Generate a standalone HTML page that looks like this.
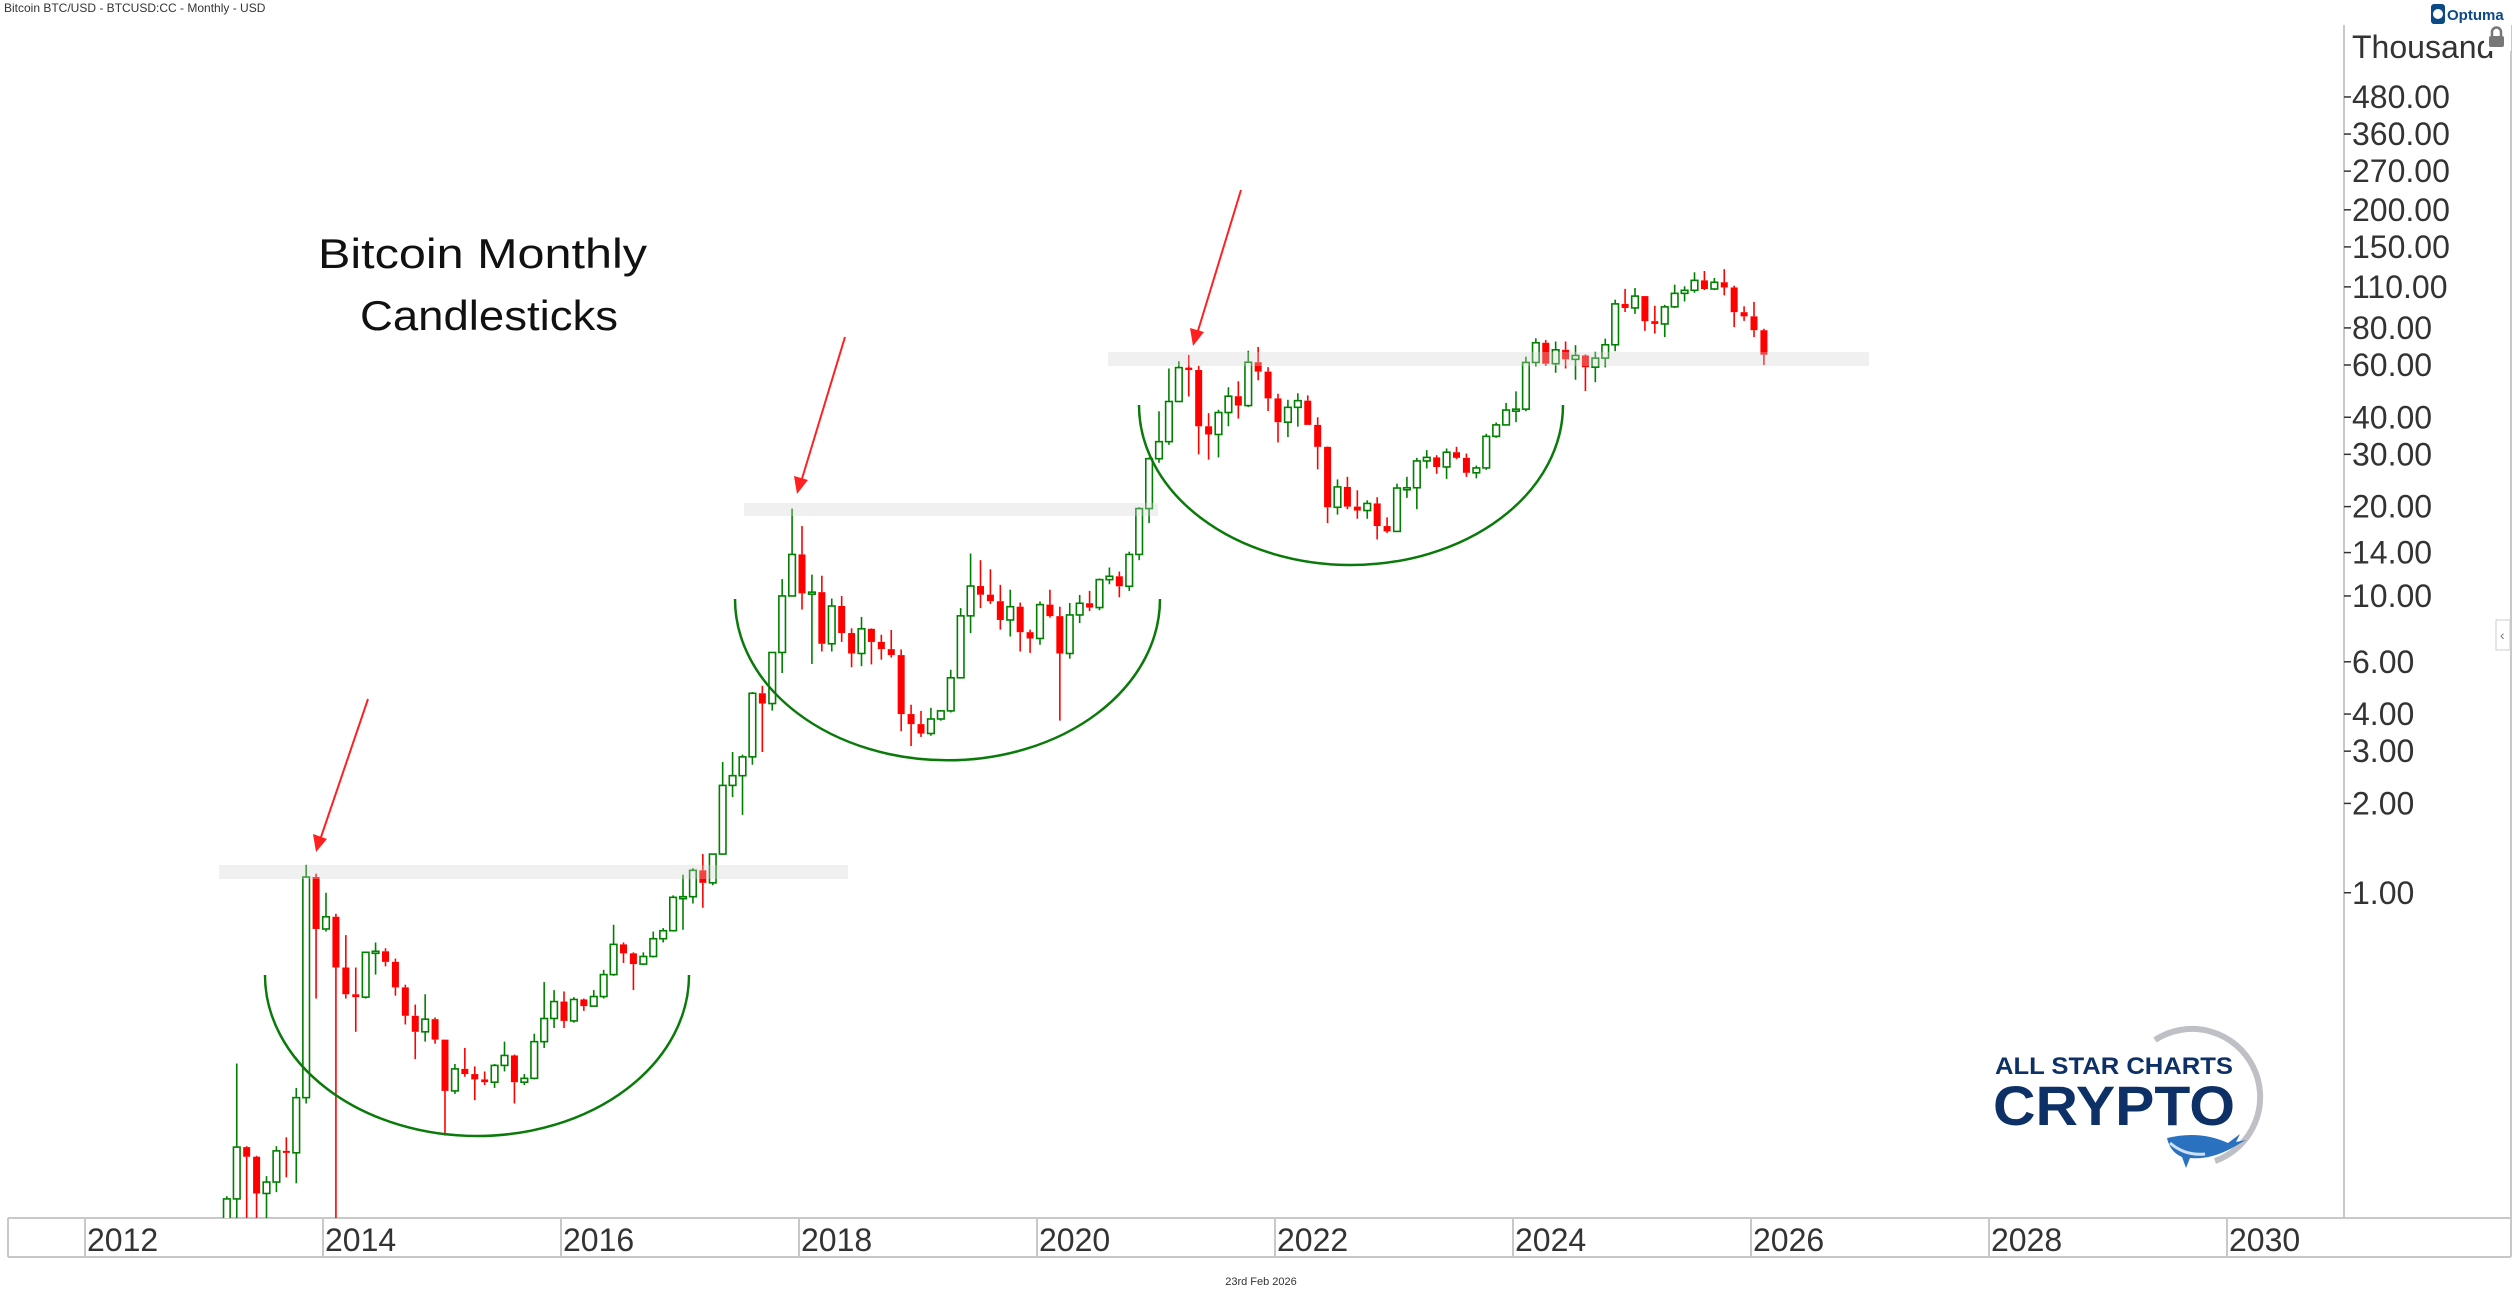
<!DOCTYPE html>
<html><head><meta charset="utf-8"><style>
html,body{margin:0;padding:0;background:#fff;}
svg{display:block;font-family:"Liberation Sans",sans-serif;}
</style></head><body>
<svg id="c" width="2518" height="1292" viewBox="0 0 2518 1292" xmlns="http://www.w3.org/2000/svg">
<defs><clipPath id="pl"><rect x="8" y="20" width="2336" height="1198"/></clipPath></defs>
<rect width="2518" height="1292" fill="#fff"/>
<text x="4" y="12" font-size="12" fill="#333">Bitcoin BTC/USD - BTCUSD:CC - Monthly - USD</text>
<line x1="2344" y1="25" x2="2344" y2="1218" stroke="#c8c8c8" stroke-width="2"/>
<line x1="2511" y1="25" x2="2511" y2="1257" stroke="#c8c8c8" stroke-width="2"/>
<line x1="8" y1="1218" x2="2511" y2="1218" stroke="#c8c8c8" stroke-width="2"/>
<line x1="8" y1="1257" x2="2511" y2="1257" stroke="#c8c8c8" stroke-width="2"/>
<line x1="8" y1="1218" x2="8" y2="1257" stroke="#c8c8c8" stroke-width="2"/>
<g id="xax" font-size="32" fill="#333"></g>
<g id="yax" font-size="32" fill="#333"></g>
<text x="2352" y="58" font-size="32" fill="#333">Thousand</text>
<rect x="2484" y="25" width="27" height="26" fill="#fff"/>
<rect x="2489" y="36" width="15" height="11" rx="2" fill="#777"/>
<path d="M2492 36v-4a4.5 4.5 0 0 1 9 0v4" fill="none" stroke="#777" stroke-width="2.5"/>
<rect x="2431" y="4" width="14" height="20" rx="3" fill="#0c4a85"/>
<circle cx="2438" cy="14" r="5" fill="#fff"/>
<text x="2447" y="20" font-size="15" font-weight="bold" fill="#0c4a85">Optuma</text>
<text x="2500" y="640" font-size="14" fill="#777">‹</text>
<rect x="2496" y="620" width="14" height="30" fill="none" stroke="#ccc"/>
<g clip-path="url(#pl)">
<g id="cand"></g>
<g opacity="0.33">
<rect x="219" y="865" width="629" height="14" fill="#d2d2d2"/>
<rect x="744" y="503" width="414" height="13" fill="#d2d2d2"/>
<rect x="1108" y="352" width="761" height="14" fill="#d2d2d2"/>
</g>
<path d="M265 975 A212 161 0 0 0 689 975" fill="none" stroke="#0a7a0a" stroke-width="2.5"/>
<path d="M735 599 A212 161 0 0 0 1160 599" fill="none" stroke="#0a7a0a" stroke-width="2.5"/>
<path d="M1139 405 A212 160 0 0 0 1563 405" fill="none" stroke="#0a7a0a" stroke-width="2.5"/>
</g>
<g stroke="#ff2020" stroke-width="2" fill="#ff2020">
<line x1="368" y1="699" x2="320" y2="840"/><polygon points="316,852 313,834 327,839" stroke="none"/>
<line x1="845" y1="337" x2="801" y2="482"/><polygon points="797,494 794,476 808,480" stroke="none"/>
<line x1="1241" y1="190" x2="1197" y2="334"/><polygon points="1193,346 1190,328 1204,332" stroke="none"/>
</g>
<text x="318" y="268" font-size="42" fill="#111" textLength="329" lengthAdjust="spacingAndGlyphs">Bitcoin Monthly</text>
<text x="360" y="330" font-size="42" fill="#111" textLength="258" lengthAdjust="spacingAndGlyphs">Candlesticks</text>
<path d="M2155 1040 A68 68 0 1 1 2215 1161" fill="none" stroke="#bfc0c6" stroke-width="6"/>
<text x="1995" y="1074" font-size="24" font-weight="bold" fill="#0d3166" textLength="238" lengthAdjust="spacingAndGlyphs">ALL STAR CHARTS</text>
<text x="1993" y="1125" font-size="56" font-weight="bold" fill="#0d3166" textLength="242" lengthAdjust="spacingAndGlyphs">CRYPTO</text>
<path d="M2167 1138 Q2200 1130 2228 1143 L2240 1134 L2236 1142 L2246 1140 L2232 1148 Q2210 1160 2190 1158 L2186 1168 L2182 1157 Q2170 1152 2167 1138Z" fill="#2a72c0"/>
<path d="M2170 1143 Q2185 1156 2205 1154" fill="none" stroke="#cfe0f3" stroke-width="3"/>
<text x="1261" y="1285" font-size="11" fill="#333" text-anchor="middle">23rd Feb 2026</text>
</svg>
<script>
var NS="http://www.w3.org/2000/svg";
function el(t,a,p){var e=document.createElementNS(NS,t);for(var k in a)e.setAttribute(k,a[k]);p.appendChild(e);return e;}
function Y(p){return 365-296.8*Math.log10(p/60000);}
var xax=document.getElementById('xax');
for(var yr=2012;yr<=2030;yr+=2){var x=85+(yr-2012)*119;
el('line',{x1:x,y1:1218,x2:x,y2:1257,stroke:'#c8c8c8','stroke-width':2},xax);
var t=el('text',{x:x+2,y:1251},xax);t.textContent=yr;}
var yax=document.getElementById('yax');
[480,360,270,200,150,110,80,60,40,30,20,14,10,6,4,3,2,1].forEach(function(v){var y=Y(v*1000);
el('line',{x1:2344,y1:y,x2:2351,y2:y,stroke:'#333','stroke-width':1.5},yax);
var t=el('text',{x:2352,y:y+11},yax);t.textContent=v.toFixed(2);});
var D=[
[34,95,33,93],[93,266,50,139],[139,140,80,129],[129,130,64,97],[97,111,65,106],[106,140,98,135],[135,150,110,133],[133,220,105,204],[204,1242,195,1130],[1130,1160,440,755],
[755,1000,740,830],[830,850,80,560],[560,720,440,455],[455,560,340,445],[445,630,440,630],[630,680,530,635],[635,650,565,585],[585,600,450,480],[480,490,360,385],[385,420,275,340],[340,455,315,375],[375,380,310,320],
[320,320,152,215],[215,265,210,255],[255,300,240,245],[245,260,200,235],[235,250,225,230],[230,265,220,262],[262,315,250,283],[283,285,195,230],[230,245,225,237],[237,335,235,315],[315,500,300,377],[377,470,350,430],
[430,465,350,370],[370,445,365,437],[437,440,400,415],[415,470,415,447],[447,550,440,530],[530,780,525,670],[670,680,580,625],[625,630,470,575],[575,630,570,610],[610,740,605,700],[700,760,680,745],[745,980,740,965],
[965,1150,750,970],[970,1210,920,1190],[1190,1350,890,1080],[1080,1350,1060,1350],[1350,2760,1350,2300],[2300,2980,2100,2480],[2480,2920,1830,2870],[2870,4750,2700,4700],[4700,4980,2980,4340],[4340,6470,4110,6450],[6450,11400,5500,10000],[10000,19700,10000,13800],
[13800,17200,9000,10200],[10200,11800,5900,10300],[10300,11700,6500,6900],[6900,9800,6500,9250],[9250,10000,7000,7500],[7500,7780,5750,6400],[6400,8500,5800,7750],[7750,7780,5880,7000],[7000,7400,6100,6620],[6620,7680,6200,6320],[6320,6600,3500,4000],[4000,4300,3120,3700],
[3700,4100,3350,3440],[3440,4200,3380,3850],[3850,4130,3800,4100],[4100,5640,4050,5300],[5300,9100,5300,8570],[8570,13900,7500,10800],[10800,13200,9100,10100],[10100,12300,9400,9600],[9600,10900,7700,8300],[8300,10500,7300,9200],[9200,9500,6500,7550],[7550,7700,6430,7190],
[7190,9580,6850,9350],[9350,10500,8450,8550],[8550,9200,3800,6400],[6400,9470,6150,8630],[8630,10080,8100,9450],[9450,10400,8900,9140],[9140,11450,8950,11350],[11350,12470,10950,11650],[11650,12080,9900,10780],[10780,14100,10400,13800],[13800,19900,13200,19700],[19700,29300,17600,29000],
[29000,41900,28100,33100],[33100,58400,32300,45200],[45200,61800,45000,58800],[58800,64900,47000,57700],[57700,59600,30000,37300],[37300,41300,28800,35000],[35000,42400,29300,41500],[41500,50500,37300,47100],[47100,52900,39600,43800],[43800,67000,43300,61300],[61300,69000,53300,57000],[57000,59000,42000,46300],
[46300,48000,32900,38500],[38500,45800,34300,43200],[43200,48200,37200,45500],[45500,47400,37700,37700],[37700,40000,26700,31800],[31800,31900,17600,19900],[19900,24700,18800,23300],[23300,25200,19600,20000],[20000,22700,18200,19400],[19400,21000,18200,20500],[20500,21500,15500,17200],[17200,18400,16300,16500],
[16500,23900,16500,23100],[23100,25200,21400,23150],[23150,29200,19600,28500],[28500,31000,26900,29300],[29300,29800,25800,27200],[27200,31400,24800,30500],[30500,31800,28900,29200],[29200,30200,25200,26000],[26000,27500,24900,27000],[27000,35200,26600,34500],[34500,38400,34100,37700],[37700,44700,37600,42300],
[42300,48900,38500,42600],[42600,64000,41900,61200],[61200,73800,59300,71300],[71300,72800,59600,60600],[60600,72000,56500,67500],[67500,72000,58400,62700],[62700,70000,53500,64600],[64600,65100,49000,59000],[59000,66500,52500,63300],[63300,73600,58900,70200],[70200,99600,66800,96400],[96400,108300,90500,93400],
[93400,109000,89200,102400],[102400,102500,78200,84300],[84300,95000,76600,82500],[82500,95700,74500,94200],[94200,111900,93400,104600],[104600,110500,98200,107100],[107100,123200,105100,115700],[115700,124400,107300,108200],[108200,117900,107300,114000],[114000,126200,103000,109500],[109500,111000,80500,90400],[90400,94600,84500,87500],
[87500,97900,74500,78600],[78600,79500,60000,65000]];
var g=document.getElementById('cand');
D.forEach(function(d,i){var mi=i+2;var yr=2013+Math.floor(mi/12),m=mi%12;
var x=85+(yr-2012)*119+m*9.917+3;
var o=Y(d[0]),h=Y(d[1]),l=Y(d[2]),c=Y(d[3]);var up=d[3]>=d[0];
var col=up?'#008000':'#ff0000';
var top=Math.min(o,c),bot=Math.max(o,c);if(bot-top<2){bot=top+2;}
el('line',{x1:x,y1:h,x2:x,y2:top,stroke:col,'stroke-width':1.6},g);
el('line',{x1:x,y1:bot,x2:x,y2:l,stroke:col,'stroke-width':1.6},g);
if(up)el('rect',{x:x-3.3,y:top,width:6.6,height:bot-top,fill:'#fff',stroke:col,'stroke-width':1.6},g);
else el('rect',{x:x-3.5,y:top,width:7,height:bot-top,fill:col},g);
});
</script>
</body></html>
